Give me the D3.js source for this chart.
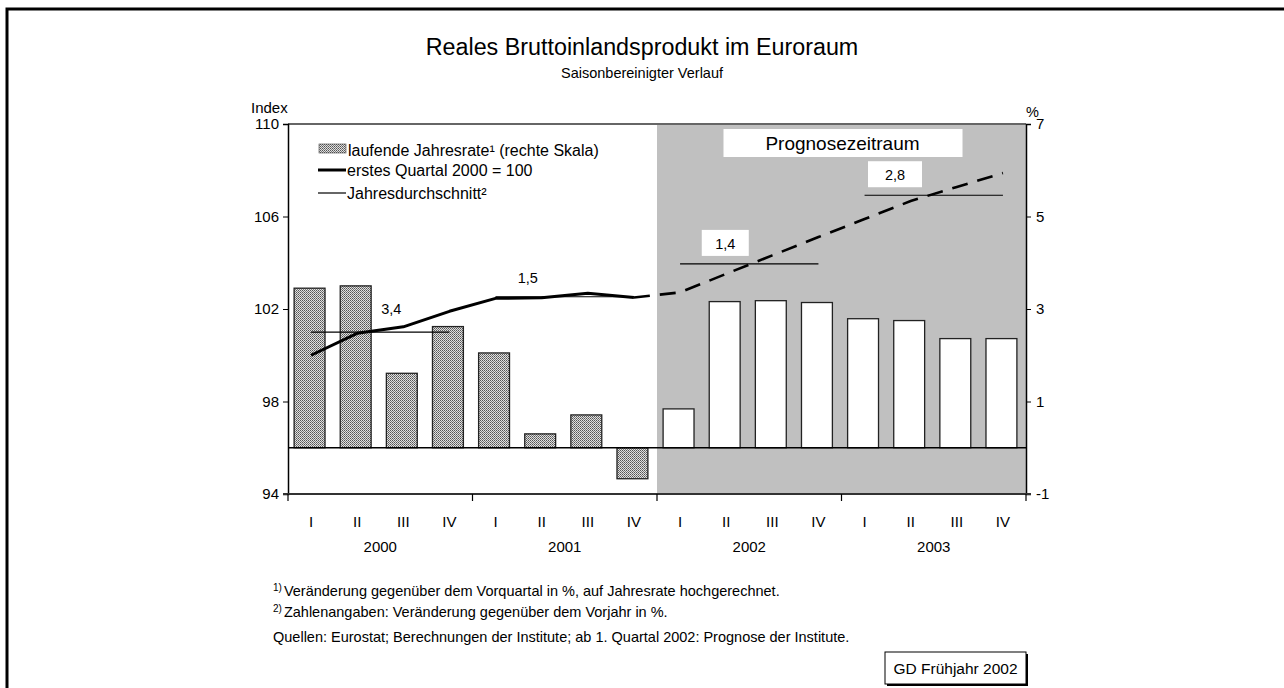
<!DOCTYPE html>
<html><head><meta charset="utf-8">
<script src="https://cdn.jsdelivr.net/npm/d3@7"></script>
<style>body{margin:0;background:#fff;} svg{display:block;font-family:"Liberation Sans",Arial,sans-serif;}</style>
</head><body>
<svg id="c" width="1284" height="688"></svg>
<script>
// ---- data ----
const years = ["2000","2001","2002","2003"];
const quarterNames = ["I","II","III","IV"];
const quarters = years.flatMap(y => quarterNames.map(q => y + "-" + q));
const rate = [3.45, 3.5, 1.61, 2.62, 2.05, 0.30, 0.71, -0.67, 0.84, 3.16, 3.18, 3.14, 2.79, 2.75, 2.36, 2.36];
const indexActual = [100.0, 100.95, 101.23, 101.9, 102.46, 102.49, 102.68, 102.5];
const indexForecast = [102.5, 102.72, 103.52, 104.32, 105.11, 105.89, 106.67, 107.28, 107.88];
const annualAvg = [101.0, 102.53, 103.95, 106.92];
const annualLabels = ["3,4", "1,5", "1,4", "2,8"];
const forecastStart = "2002";
const leftTicks = [94, 98, 102, 106, 110];
const rightTicks = [-1, 1, 3, 5, 7];

// ---- layout ----
const L = 288, R = 1026, T = 124, B = 494;
const svg = d3.select("#c");
const font = "Liberation Sans, Arial, sans-serif";

// outer frame
svg.append("rect").attr("x", 7).attr("y", 9).attr("width", 1300).attr("height", 700)
  .attr("fill", "none").attr("stroke", "#000").attr("stroke-width", 3);

// pattern
const defs = svg.append("defs");
const pat = defs.append("pattern").attr("id", "dots").attr("patternUnits", "userSpaceOnUse")
  .attr("width", 4).attr("height", 4);
pat.append("rect").attr("width", 4).attr("height", 4).attr("fill", "#e0e0e0");
[[0,0],[2,0],[1,1],[3,1],[0,2],[2,2],[1,3],[3,3]].forEach(([a,b])=>{
  pat.append("rect").attr("x", a).attr("y", b).attr("width", 1).attr("height", 1)
    .attr("fill", (b % 2 === 0) ? "#555" : "#7a7a7a");
});

const x = d3.scaleBand().domain(quarters).range([L, R]).paddingInner(0.33).paddingOuter(0.165);
const xc = q => x(q) + x.bandwidth() / 2;
const xy = d3.scaleBand().domain(years).range([L, R]);
const yL = d3.scaleLinear().domain([94, 110]).range([B, T]);
const yR = d3.scaleLinear().domain([-1, 7]).range([B, T]);

// forecast shading
svg.append("rect").attr("x", xy(forecastStart)).attr("y", T)
  .attr("width", R - xy(forecastStart)).attr("height", B - T).attr("fill", "#c0c0c0");

// top border line
svg.append("line").attr("x1", L).attr("x2", R).attr("y1", T).attr("y2", T)
  .attr("stroke", "#666").attr("stroke-width", 2);

// bars
const isForecast = q => q.split("-")[0] >= forecastStart;
svg.append("g").selectAll("rect").data(quarters).join("rect")
  .attr("x", q => x(q) - 1.5)
  .attr("width", x.bandwidth())
  .attr("y", (q, i) => yR(Math.max(0, rate[i])))
  .attr("height", (q, i) => Math.abs(yR(rate[i]) - yR(0)))
  .attr("fill", q => isForecast(q) ? "#fff" : "url(#dots)")
  .attr("stroke", "#222").attr("stroke-width", 1.3);

// zero baseline
svg.append("line").attr("x1", L).attr("x2", R).attr("y1", yR(0)).attr("y2", yR(0))
  .attr("stroke", "#000").attr("stroke-width", 1.3);

// annual average lines
years.forEach((yr, i) => {
  svg.append("line")
    .attr("x1", xc(yr + "-I")).attr("x2", xc(yr + "-IV"))
    .attr("y1", yL(annualAvg[i])).attr("y2", yL(annualAvg[i]))
    .attr("stroke", "#000").attr("stroke-width", 1.2);
});

// index lines
const line = d3.line().x(d => xc(d.q)).y(d => yL(d.v));
const act = indexActual.map((v, i) => ({q: quarters[i], v}));
const fc = indexForecast.map((v, i) => ({q: quarters[i + 7], v}));
svg.append("path").attr("d", line(act)).attr("fill", "none").attr("stroke", "#000")
  .attr("stroke-width", 3).attr("stroke-linejoin", "round");
svg.append("path").attr("d", line(fc)).attr("fill", "none").attr("stroke", "#000")
  .attr("stroke-width", 2.6).attr("stroke-dasharray", "16,10");

// annual labels
const labelFrac = [0.56, 0.30, 0.37, 0.29];
const labelDy = [18, 14, 15, 15];
years.forEach((yr, i) => {
  const cx = xy(yr) + labelFrac[i] * xy.bandwidth();
  const by = yL(annualAvg[i]) - labelDy[i];
  if (yr >= forecastStart) {
    const w = i === 2 ? 47 : 54;
    svg.append("rect").attr("x", cx - w / 2).attr("y", by - 19).attr("width", w).attr("height", 26)
      .attr("fill", "#fff");
  }
  svg.append("text").attr("x", cx).attr("y", by).attr("text-anchor", "middle")
    .attr("font-size", 14.5).text(annualLabels[i]);
});

// Prognosezeitraum box
const pcx = (xy(forecastStart) + R) / 2 + 1;
svg.append("rect").attr("x", pcx - 119).attr("y", 129).attr("width", 239).attr("height", 28).attr("fill", "#fff");
svg.append("text").attr("x", pcx).attr("y", 150).attr("text-anchor", "middle").attr("font-size", 19)
  .text("Prognosezeitraum");

// axes
const axL = svg.append("g").attr("transform", `translate(${L},0)`)
  .call(d3.axisLeft(yL).tickValues(leftTicks).tickSize(5).tickPadding(4).tickFormat(d => String(d)));
const axR = svg.append("g").attr("transform", `translate(${R},0)`)
  .call(d3.axisRight(yR).tickValues(rightTicks).tickSize(5).tickPadding(5).tickFormat(d => String(d)));
[axL, axR].forEach(a => {
  a.select(".domain").attr("stroke", "#000").attr("stroke-width", 1.5);
  a.selectAll(".tick line").attr("stroke", "#000");
  a.selectAll("text").attr("font-size", 15).attr("font-family", font).attr("fill", "#000");
});

// bottom axis
svg.append("line").attr("x1", L - 5).attr("x2", R + 5).attr("y1", B).attr("y2", B)
  .attr("stroke", "#333").attr("stroke-width", 2);
svg.append("g").selectAll("line").data(years.concat(["end"])).join("line")
  .attr("x1", d => d === "end" ? R : xy(d)).attr("x2", d => d === "end" ? R : xy(d))
  .attr("y1", B).attr("y2", B + 7).attr("stroke", "#000").attr("stroke-width", 1.2);
svg.append("g").selectAll("text").data(quarters).join("text")
  .attr("x", q => xc(q)).attr("y", 527).attr("text-anchor", "middle").attr("font-size", 15)
  .text(q => q.split("-")[1]);
svg.append("g").selectAll("text").data(years).join("text")
  .attr("x", yr => xy(yr) + xy.bandwidth() / 2).attr("y", 552).attr("text-anchor", "middle")
  .attr("font-size", 15).text(d => d);

// axis titles
svg.append("text").attr("x", 251).attr("y", 113).attr("font-size", 15).text("Index");
svg.append("text").attr("x", 1026).attr("y", 117).attr("font-size", 14.5).text("%");

// title
svg.append("text").attr("x", 642).attr("y", 55).attr("text-anchor", "middle").attr("font-size", 23.3)
  .text("Reales Bruttoinlandsprodukt im Euroraum");
svg.append("text").attr("x", 642).attr("y", 78).attr("text-anchor", "middle").attr("font-size", 14.5)
  .text("Saisonbereinigter Verlauf");

// legend
const lg = svg.append("g");
lg.append("rect").attr("x", 319).attr("y", 144).attr("width", 27).attr("height", 9)
  .attr("fill", "url(#dots)").attr("stroke", "#444").attr("stroke-width", 0.6);
lg.append("text").attr("x", 348).attr("y", 155.5).attr("font-size", 16).text("laufende Jahresrate¹ (rechte Skala)");
lg.append("line").attr("x1", 318).attr("x2", 346).attr("y1", 170).attr("y2", 170).attr("stroke", "#000").attr("stroke-width", 3);
lg.append("text").attr("x", 347).attr("y", 175.5).attr("font-size", 16).text("erstes Quartal 2000 = 100");
lg.append("line").attr("x1", 318).attr("x2", 346).attr("y1", 193).attr("y2", 193).attr("stroke", "#000").attr("stroke-width", 1.2);
lg.append("text").attr("x", 347).attr("y", 198.5).attr("font-size", 16).text("Jahresdurchschnitt²");

// footnotes
function foot(sup, txt, y) {
  const t = svg.append("text").attr("x", 273).attr("y", y).attr("font-size", 14.5);
  if (sup) {
    t.append("tspan").attr("font-size", 10).attr("dy", -5).text(sup);
    t.append("tspan").attr("dy", 5).attr("dx", 2).text(txt);
  } else t.text(txt);
}
foot("1)", "Veränderung gegenüber dem Vorquartal in %, auf Jahresrate hochgerechnet.", 596);
foot("2)", "Zahlenangaben: Veränderung gegenüber dem Vorjahr in %.", 617);
foot(null, "Quellen: Eurostat; Berechnungen der Institute; ab 1. Quartal 2002: Prognose der Institute.", 642);

// GD box
svg.append("rect").attr("x", 887).attr("y", 654).attr("width", 141).attr("height", 32).attr("fill", "#000");
svg.append("rect").attr("x", 885).attr("y", 652).attr("width", 141).attr("height", 32)
  .attr("fill", "#fff").attr("stroke", "#000").attr("stroke-width", 1);
svg.append("text").attr("x", 955.5).attr("y", 673.5).attr("text-anchor", "middle").attr("font-size", 15.5)
  .text("GD Frühjahr 2002");
</script>
</body></html>
